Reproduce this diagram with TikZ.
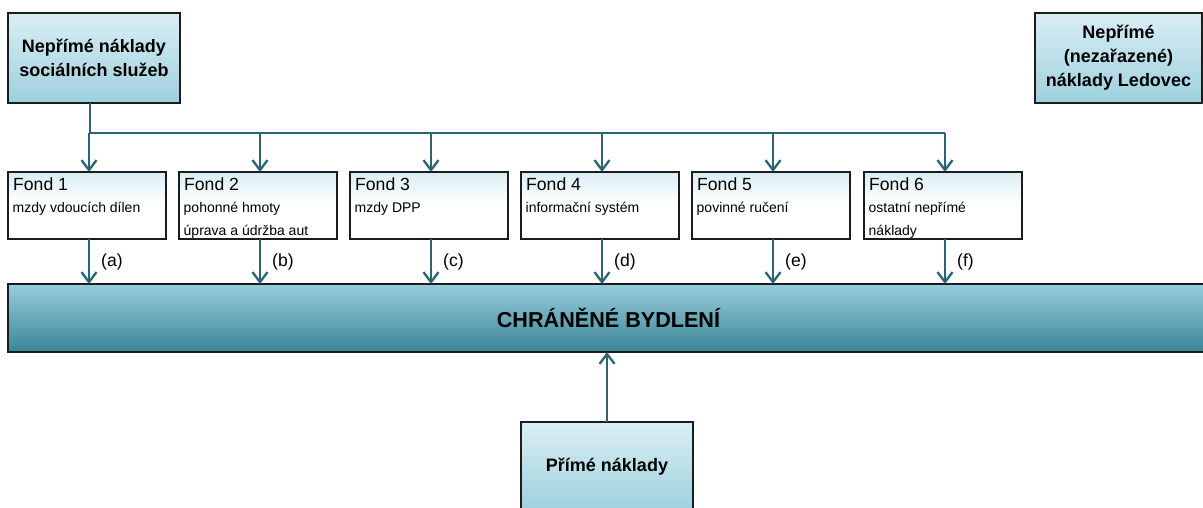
\documentclass[tikz,border=0pt]{standalone}
\usepackage{fontspec}
\setmainfont{Liberation Sans}
\usetikzlibrary{arrows.meta}

\definecolor{linkcol}{HTML}{2A6475}
\definecolor{edgecol}{HTML}{1C1C1C}
\definecolor{pale}{HTML}{DAEEF4}
\definecolor{sky}{HTML}{9DD0DD}
\definecolor{tealtop}{HTML}{98CDDB}
\definecolor{tealbot}{HTML}{3A8599}
\definecolor{fondtop}{HTML}{D8EDF3}

% light tint at the top of the fund boxes, fading to white
\pgfdeclareverticalshading{fondshade}{100bp}{%
  color(0bp)=(white); color(25bp)=(white); color(52bp)=(white);
  color(75bp)=(fondtop); color(100bp)=(fondtop)}

\tikzset{
  costbox/.style={draw=edgecol, line width=1.8pt, top color=pale, bottom color=sky,
    inner sep=0pt, outer sep=0pt, anchor=north west, align=center,
    font=\bfseries\fontsize{18}{23.5}\selectfont},
  fondbox/.style={draw=edgecol, line width=1.8pt, shading=fondshade,
    inner sep=0pt, outer sep=0pt, anchor=north west,
    minimum width=158pt, minimum height=67pt},
  fondtitle/.style={anchor=base west, inner sep=0pt, font=\fontsize{17.6}{20}\selectfont},
  fondline/.style={anchor=base west, inner sep=0pt, font=\fontsize{14}{16}\selectfont},
  mainbox/.style={draw=edgecol, line width=1.8pt, top color=tealtop, bottom color=tealbot,
    inner sep=0pt, outer sep=0pt, anchor=north west,
    minimum width=1202pt, minimum height=68pt},
  conn/.style={draw=linkcol, line width=2.3pt},
  arr/.style={conn, -{Straight Barb[length=10pt, width=15pt, line width=2.3pt]}},
  tag/.style={anchor=west, inner sep=0pt, xshift=11pt, font=\fontsize{17.6}{20}\selectfont}
}

\begin{document}
\begin{tikzpicture}[x=1pt, y=-1pt]
\useasboundingbox (0,0) rectangle (1203,507);

% source boxes
\node[costbox, minimum width=172pt, minimum height=90pt] (ind) at (8,13)
  {Nepřímé náklady\\sociálních služeb};
\node[costbox, minimum width=167pt, minimum height=90pt, font=\bfseries\fontsize{18}{24}\selectfont]
  (ledo) at (1035,13) {Nepřímé\\(nezařazené)\\náklady Ledovec};
\node[costbox, minimum width=172pt, minimum height=90pt] (dir) at (521,422) {Přímé náklady};

% target
\node[mainbox] (main) at (8,284) {};
\node[font=\bfseries\fontsize{21.6}{24}\selectfont] (maint) at (608.5,317.5) {CHRÁNĚNÉ BYDLENÍ};

% funds
\node[fondbox] (f1) at (8,172) {};
\node[fondbox] (f2) at (179,172) {};
\node[fondbox] (f3) at (350,172) {};
\node[fondbox] (f4) at (521,172) {};
\node[fondbox] (f5) at (692,172) {};
\node[fondbox] (f6) at (864,172) {};

\node[fondtitle] (f1t) at ([shift={(5,18)}]f1.north west) {Fond 1};
\node[fondline]  (f1a) at ([shift={(4.5,40.5)}]f1.north west) {mzdy vdoucích dílen};

\node[fondtitle] (f2t) at ([shift={(5,18)}]f2.north west) {Fond 2};
\node[fondline]  (f2a) at ([shift={(4.5,40.5)}]f2.north west) {pohonné hmoty};
\node[fondline]  (f2b) at ([shift={(4.5,63)}]f2.north west) {úprava a údržba aut};

\node[fondtitle] (f3t) at ([shift={(5,18)}]f3.north west) {Fond 3};
\node[fondline]  (f3a) at ([shift={(4.5,40.5)}]f3.north west) {mzdy DPP};

\node[fondtitle] (f4t) at ([shift={(5,18)}]f4.north west) {Fond 4};
\node[fondline]  (f4a) at ([shift={(4.5,40.5)}]f4.north west) {informační systém};

\node[fondtitle] (f5t) at ([shift={(5,18)}]f5.north west) {Fond 5};
\node[fondline]  (f5a) at ([shift={(4.5,40.5)}]f5.north west) {povinné ručení};

\node[fondtitle] (f6t) at ([shift={(5,18)}]f6.north west) {Fond 6};
\node[fondline]  (f6a) at ([shift={(4.5,40.5)}]f6.north west) {ostatní nepřímé};
\node[fondline]  (f6b) at ([shift={(4.5,63)}]f6.north west) {náklady};

% distribution bus from the indirect costs
\coordinate (busL) at (90,133);
\coordinate (busR) at (945,133);
\draw[conn] (busL |- ind.south) -- (busL) -- (busR);
\foreach \f in {f1,f2,f3,f4,f5,f6}
  \draw[arr] ([xshift=2pt]\f.north |- busL) -- ([xshift=2pt]\f.north);

% allocations into the service
\foreach \f/\t in {f1/a,f2/b,f3/c,f4/d,f5/e,f6/f}
  \draw[arr] ([xshift=2pt]\f.south) -- ([xshift=2pt]\f.south |- main.north)
    node[tag, pos=0.5] (lab\t) {(\t)};

% direct costs
\draw[arr] (dir.north) -- (dir.north |- main.south);
\end{tikzpicture}
\end{document}
